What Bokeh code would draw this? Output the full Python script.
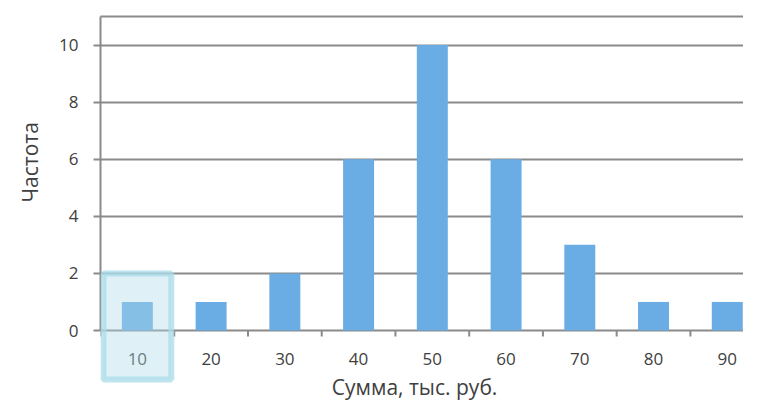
import math
from bokeh.plotting import figure
from bokeh.models import FixedTicker, LinearAxis, BoxAnnotation, Range1d, Label, Title
from bokeh.core.properties import value
from bokeh.embed import file_html
from bokeh.resources import INLINE

categories = [10, 20, 30, 40, 50, 60, 70, 80, 90]
counts = [1, 1, 2, 6, 10, 6, 3, 1, 1]
y_ticks = [0, 2, 4, 6, 8, 10]
bin_edges = [5, 15, 25, 35, 45, 55, 65, 75, 85]
tick_labels = [str(c) for c in categories]
x_title = "Сумма, тыс. руб."
y_title = "Частота"
highlight_left, highlight_right = 5.4, 14.6
highlight_top, highlight_bottom = 2.0, -1.72

FONT = "Open Sans"
TXT = "#404040"
GRID = "#8a8a8a"

p = figure(width=743, height=400, output_backend="svg", toolbar_location=None,
           x_range=Range1d(5, 92.2), y_range=Range1d(-2.452, 11),
           x_axis_location=None,
           min_border_left=100, min_border_right=0, min_border_top=16, min_border_bottom=0,
           outline_line_color=None, background_fill_color="white", border_fill_color="white")

p.vbar(x=categories, top=counts, width=4.2, fill_color="#6aade4", line_color=None)

# x-axis drawn inside the frame at y=0
p.ray(x=bin_edges, y=0, length=6, length_units="screen", angle=-math.pi / 2,
      line_color=GRID, line_width=2)
p.text(x=categories, y=0, text=tick_labels, y_offset=28, text_align="center",
       text_baseline="middle", text_font=value(FONT), text_font_size="17px", text_color=TXT)

ya = p.yaxis[0]
ya.ticker = FixedTicker(ticks=y_ticks)
ya.bounds = (0, 11)
ya.major_tick_out = 7
ya.major_tick_in = 0
ya.minor_tick_out = 0
ya.minor_tick_in = 0
ya.major_tick_line_color = GRID
ya.major_tick_line_width = 2
ya.axis_line_color = GRID
ya.axis_line_width = 2
ya.major_label_standoff = 15
ya.major_label_text_font = FONT
ya.major_label_text_font_size = "17px"
ya.major_label_text_color = TXT

top_axis = LinearAxis(ticker=FixedTicker(ticks=[]), major_label_text_font_size="0px",
                      major_tick_out=0, major_tick_in=0, minor_tick_out=0, minor_tick_in=0,
                      major_label_standoff=0, axis_line_color=GRID, axis_line_width=2)
p.add_layout(top_axis, "above")

p.xgrid.visible = False
p.ygrid.grid_line_color = GRID
p.ygrid.grid_line_width = 2
p.ygrid.ticker = FixedTicker(ticks=y_ticks)

box = BoxAnnotation(left=highlight_left, right=highlight_right,
                    top=highlight_top, bottom=highlight_bottom,
                    fill_color="#afd9e8", fill_alpha=0.4,
                    line_color="#a8dcea", line_alpha=0.75, line_width=6)
p.add_layout(box)

p.add_layout(Label(x=47.6, y=p.y_range.start, text=x_title, text_align="center",
                   text_baseline="bottom", text_font=FONT, text_font_size="21px",
                   text_color=TXT))
p.add_layout(Title(text=y_title, align="left", offset=198, standoff=22,
                   vertical_align="top",
                   text_font=FONT, text_font_size="21px", text_font_style="normal",
                   text_color=TXT), "left")

open("out.html", "w").write(file_html(p, INLINE))
